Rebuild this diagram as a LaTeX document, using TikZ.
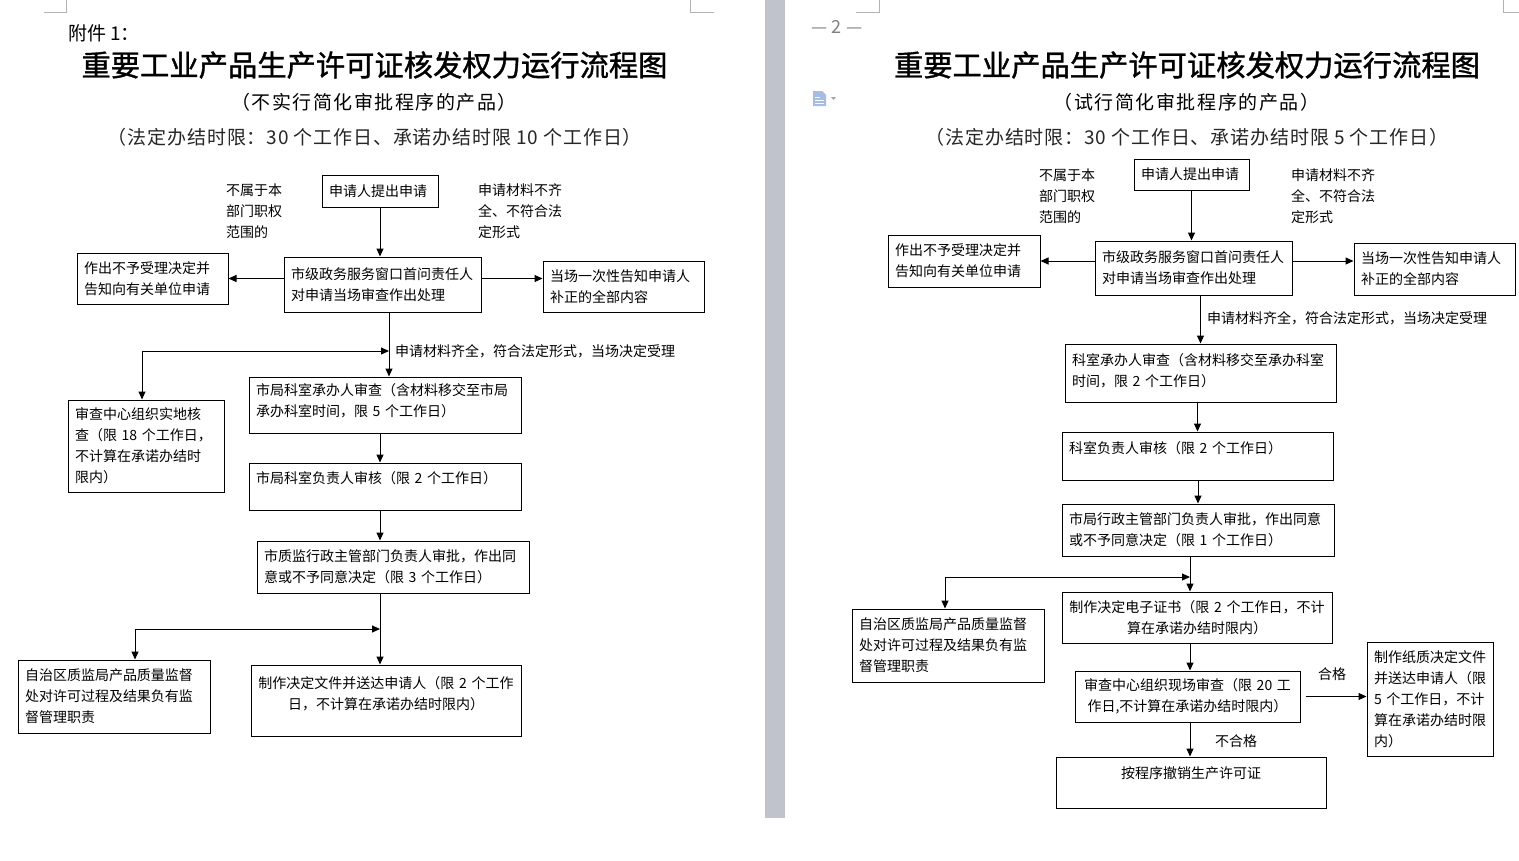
\documentclass[tikz,border=0pt]{standalone}
\usepackage{fontspec}
\setmainfont{Noto Sans CJK SC}
\newfontfamily\titlefont[FakeBold=1.2]{Noto Sans CJK SC}
\usetikzlibrary{arrows.meta, calc}
\definecolor{pagegap}{RGB}{192,195,204}
\definecolor{iconblue}{RGB}{165,188,228}
\newcommand{\padlow}[1]{\rule[-#1]{0pt}{#1}}
\tikzset{
    base/.style={draw=black, line width=1pt, font=\fontsize{14}{21}\selectfont, inner xsep=7pt, inner ysep=3pt},
    block/.style={base, rectangle, align=left},
    blockmid/.style={base, rectangle, align=center},
    note/.style={font=\fontsize{14}{21}\selectfont, align=left, inner sep=0pt},
    heading/.style={font=\titlefont\fontsize{29.3}{35}\selectfont, inner sep=0pt},
    subhead/.style={font=\fontsize{19}{23}\selectfont, inner sep=0pt},
    subspread/.style={font=\fontsize{19}{23}\selectfont\addfontfeature{LetterSpace=8}, inner sep=0pt},
    limitline/.style={font=\fontsize{19}{23}\selectfont\addfontfeature{LetterSpace=4.5}, text=black!85, inner sep=0pt},
    line/.style={draw=black, line width=1pt, -{Triangle[length=8pt, width=7pt]}},
    cornermark/.style={draw=gray!60, line width=1pt}
}

\begin{document}
\begin{tikzpicture}[x=1pt, y=-1pt]
    \fill [white] (0,0) rectangle (1519,860);
    \useasboundingbox (0,0) rectangle (1519,860);

    % page frame
    \fill [pagegap] (765,0) rectangle (785,818);
    \draw [cornermark] (44,12) -- (66,12) -- (66,0);
    \draw [cornermark] (714,12) -- (690,12) -- (690,0);
    \draw [cornermark] (856,12) -- (879,12) -- (879,0);
    \draw [cornermark] (1519,12) -- (1503,12) -- (1503,0);
    \node [subhead, text=gray, font=\fontsize{18}{22}\selectfont] (pageno) at (837,27) {— 2 —};
    \fill [iconblue] (813,91) -- (822,91) -- (826,95) -- (826,106) -- (813,106) -- cycle;
    \draw [white, line width=0.8pt] (815,97) -- (820,97) (815,100) -- (824,100) (815,103) -- (824,103);
    \fill [gray!70] (831,97) -- (836,97) -- (833.5,100) -- cycle;

    % left page
    \node [subhead, anchor=west] (attachL) at (68,33) {附件 1：};
    \node [heading] (titleL) at (374.5,65) {重要工业产品生产许可证核发权力运行流程图};
    \node [subspread] (subL) at (374,102) {（不实行简化审批程序的产品）};
    \node [limitline] (limitL) at (375,137) {（法定办结时限：30 个工作日、承诺办结时限 10 个工作日）};

    \node [block, text width=102pt, minimum height=32pt] (reqL) at (380,191) {申请人提出申请};
    \node [note, anchor=west] (outL) at (226,211) {不属于本\\部门职权\\范围的};
    \node [note, anchor=west] (lackL) at (478,211) {申请材料不齐\\全、不符合法\\定形式};
    \node [block, text width=183pt, minimum height=55pt] (checkL) at (382.5,284.5) {市级政务服务窗口首问责任人\\对申请当场审查作出处理};
    \node [block, text width=137pt, minimum height=51pt] (rejectL) at (152.5,278.5) {作出不予受理决定并\\告知向有关单位申请};
    \node [block, text width=147pt, minimum height=51pt] (notifyL) at (623.5,286.5) {当场一次性告知申请人\\补正的全部内容};
    \node [block, text width=258pt, minimum height=56pt] (reviewL) at (385,405) {市局科室承办人审查（含材料移交至市局\\承办科室时间，限~5~个工作日）\padlow{10.5pt}};
    \node [block, text width=142pt, minimum height=92pt] (siteL) at (146,446) {审查中心组织实地核\\查（限~18~个工作日，\\不计算在承诺办结时\\限内）};
    \node [block, text width=258pt, minimum height=47pt] (chiefL) at (385,486.5) {市局科室负责人审核（限~2~个工作日）\padlow{18.5pt}};
    \node [block, text width=258pt, minimum height=52pt] (approveL) at (393,567) {市质监行政主管部门负责人审批，作出同\\意或不予同意决定（限~3~个工作日）};
    \node [blockmid, text width=256pt, minimum height=71pt] (issueL) at (386,700.5) {制作决定文件并送达申请人（限~2~个工作\\日，不计算在承诺办结时限内）\padlow{15.5pt}};
    \node [block, text width=178pt, minimum height=73pt] (superL) at (114,696.5) {自治区质监局产品质量监督\\处对许可过程及结果负有监\\督管理职责};

    \coordinate (jnA) at (389,351);
    \coordinate (cnA) at (142,351);
    \coordinate (jnB) at (380,629);
    \coordinate (cnB) at (135,629);

    \draw [line] (reqL) -- (reqL |- checkL.north);
    \draw [line] (checkL.west |- rejectL.east) -- (rejectL.east);
    \draw [line] (checkL.east |- rejectL.east) -- (notifyL.west |- rejectL.east);
    \draw [line] (checkL.south -| jnA) -- (jnA |- reviewL.north);
    \draw [line] (cnA) -- (jnA);
    \draw [line] (cnA) -- (cnA |- siteL.north);
    \node [note, anchor=west] (okL) at ([xshift=6pt]jnA) {申请材料齐全，符合法定形式，当场决定受理};
    \draw [line] (reqL |- reviewL.south) -- (reqL |- chiefL.north);
    \draw [line] (reqL |- chiefL.south) -- (reqL |- approveL.north);
    \draw [line] (reqL |- approveL.south) -- (reqL |- issueL.north);
    \draw [line] (cnB) -- (jnB);
    \draw [line] (cnB) -- (cnB |- superL.north);

    % right page
    \node [heading] (titleR) at (1187,65) {重要工业产品生产许可证核发权力运行流程图};
    \node [subspread] (subR) at (1186.5,102) {（试行简化审批程序的产品）};
    \node [limitline] (limitR) at (1187,137) {（法定办结时限：30 个工作日、承诺办结时限 5 个工作日）};

    \node [block, text width=101pt, minimum height=31pt] (reqR) at (1191.5,174.5) {申请人提出申请};
    \node [note, anchor=west] (outR) at (1039,196) {不属于本\\部门职权\\范围的};
    \node [note, anchor=west] (lackR) at (1291,196) {申请材料不齐\\全、不符合法\\定形式};
    \node [block, text width=183pt, minimum height=54pt] (checkR) at (1193.5,268) {市级政务服务窗口首问责任人\\对申请当场审查作出处理};
    \node [block, text width=138pt, minimum height=52pt] (rejectR) at (964,261) {作出不予受理决定并\\告知向有关单位申请};
    \node [block, text width=147pt, minimum height=52pt] (notifyR) at (1434.5,269) {当场一次性告知申请人\\补正的全部内容};
    \node [block, text width=257pt, minimum height=58pt] (reviewR) at (1200.5,373) {科室承办人审查（含材料移交至承办科室\\时间，限~2~个工作日）\padlow{6.5pt}};
    \node [block, text width=257pt, minimum height=48pt] (chiefR) at (1197.5,456) {科室负责人审核（限~2~个工作日）\padlow{17.5pt}};
    \node [block, text width=258pt, minimum height=52pt] (approveR) at (1198,530) {市局行政主管部门负责人审批，作出同意\\或不予同意决定（限~1~个工作日）};
    \node [blockmid, text width=256pt, minimum height=51pt] (certR) at (1197,617.5) {制作决定电子证书（限~2~个工作日，不计\\算在承诺办结时限内）};
    \node [block, text width=178pt, minimum height=73pt] (superR) at (948,645.5) {自治区质监局产品质量监督\\处对许可过程及结果负有监\\督管理职责};
    \node [blockmid, text width=211pt, minimum height=51pt] (inspectR) at (1187.5,696.5) {审查中心组织现场审查（限~20~工\\作日,不计算在承诺办结时限内）};
    \node [block, text width=112pt, minimum height=114pt] (paperR) at (1430,699) {制作纸质决定文件\\并送达申请人（限\\5~个工作日，不计\\算在承诺办结时限\\内）};
    \node [blockmid, text width=256pt, minimum height=51pt] (revokeR) at (1191,782.5) {按程序撤销生产许可证\padlow{20.5pt}};

    \coordinate (jnC) at (1190,577);
    \coordinate (cnC) at (945,577);

    \draw [line] (reqR) -- (reqR |- checkR.north);
    \draw [line] (checkR.west |- rejectR.east) -- (rejectR.east);
    \draw [line] (checkR.east |- rejectR.east) -- (notifyR.west |- rejectR.east);
    \draw [line] (checkR.south -| reviewR.north) -- (reviewR.north);
    \node [note, anchor=west] (okR) at (1207,318) {申请材料齐全，符合法定形式，当场决定受理};
    \draw [line] (reviewR.south -| chiefR.north) -- (chiefR.north);
    \draw [line] (chiefR.south -| approveR.north) -- (approveR.north);
    \draw [line] (approveR.south -| jnC) -- (jnC |- certR.north);
    \draw [line] (cnC) -- (jnC);
    \draw [line] (cnC) -- (cnC |- superR.north);
    \draw [line] (certR.south -| jnC) -- (jnC |- inspectR.north);
    \draw [line] ([xshift=5pt]inspectR.east) -- (paperR.west |- inspectR.east);
    \node [note] (passR) at (1332,674) {合格};
    \draw [line] (inspectR.south -| jnC) -- (jnC |- revokeR.north);
    \node [note] (failR) at (1236,741) {不合格};
\end{tikzpicture}
\end{document}
